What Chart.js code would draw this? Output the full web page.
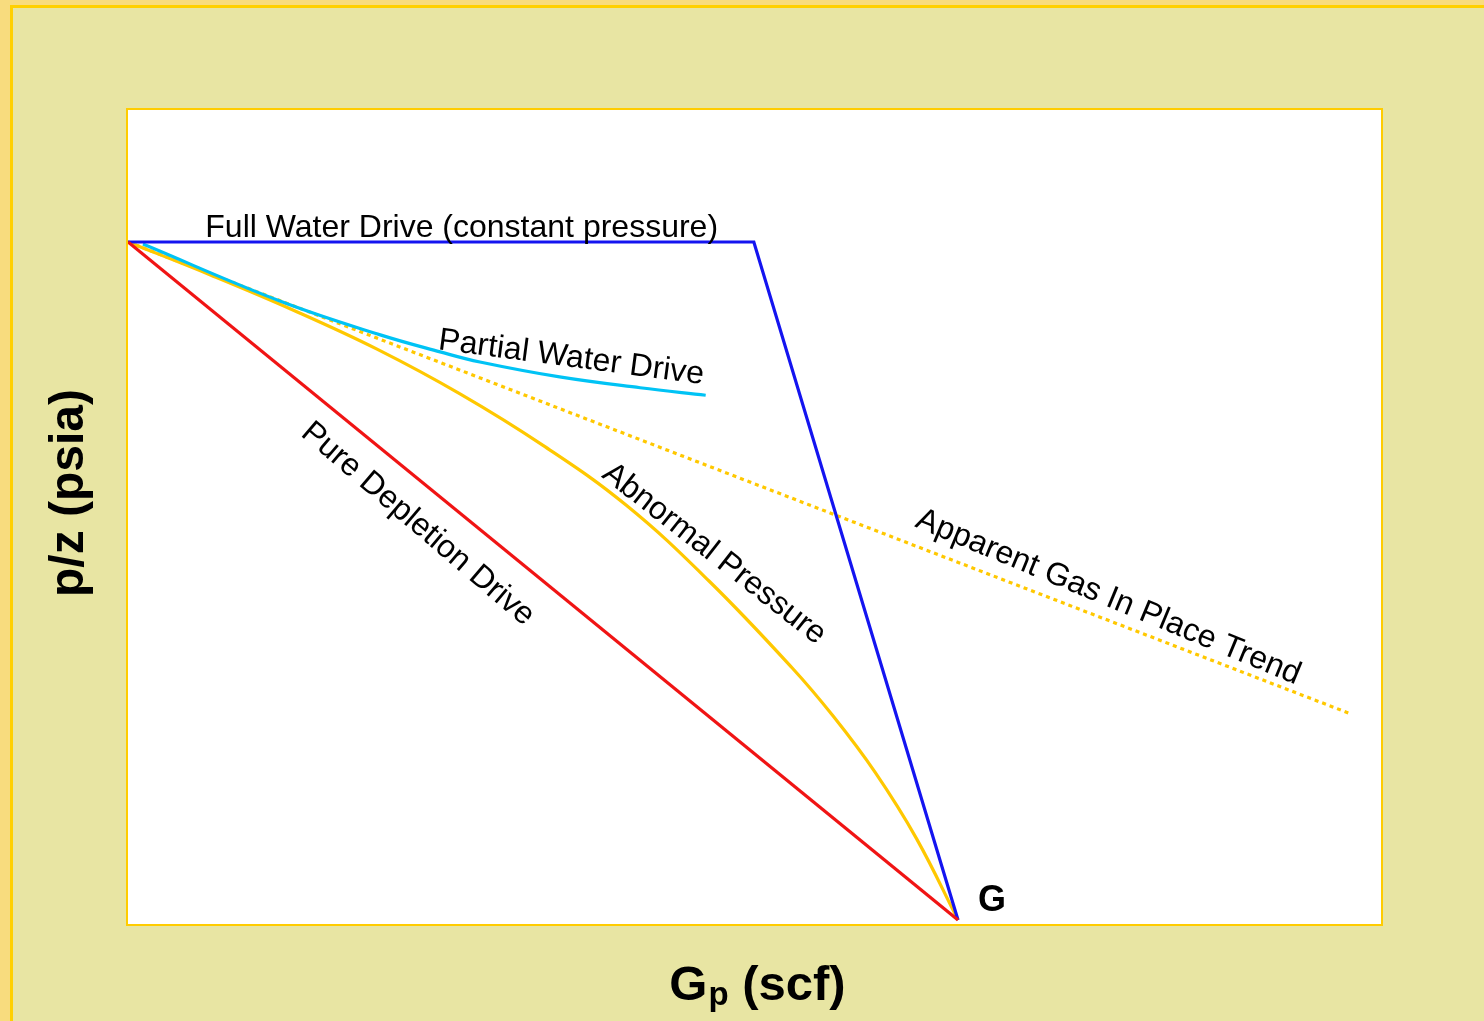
<!DOCTYPE html>
<html>
<head>
<meta charset="utf-8">
<script src="https://cdn.jsdelivr.net/npm/chart.js@4/dist/chart.umd.min.js"></script>
<style>
  html, body { margin: 0; padding: 0; background: #F8DC7E; }
  canvas { display: block; }
</style>
</head>
<body>
<canvas id="c" width="1484" height="1021"></canvas>
<script>
// Gp expressed as a fraction of G (true gas in place); p/z as a fraction of initial p/z
const depletionX = [0, 1];
const depletionY = [1, 0];

const fullWaterX = [0, 0.754, 1];
const fullWaterY = [1, 1, 0];

const partialWaterX = [0.018, 0.183, 0.304, 0.376, 0.424, 0.520, 0.617, 0.696];
const partialWaterY = [0.997, 0.913, 0.863, 0.838, 0.823, 0.801, 0.785, 0.774];

const abnormalX = [0, 0.1, 0.2, 0.3, 0.4, 0.5, 0.6, 0.7, 0.8, 0.85, 0.9, 0.95, 1];
const abnormalY = [1, 0.951, 0.899, 0.842, 0.776, 0.700, 0.612, 0.500, 0.372, 0.300, 0.218, 0.120, 0];

const apparentX = [0, 1.471];
const apparentY = [1, 0.305];

const curveLabels = [
  "Full Water Drive (constant pressure)",
  "Partial Water Drive",
  "Pure Depletion Drive",
  "Abnormal Pressure",
  "Apparent Gas In Place Trend",
  "G"
];
const xTitleMain = "G";
const xTitleSub = "p";
const xTitleRest = " (scf)";
const yTitle = "p/z (psia)";

function pts(xs, ys) { return xs.map((x, i) => ({ x: x, y: ys[i] })); }

const FONT = '"Liberation Sans", Arial, Helvetica, sans-serif';

const framePlugin = {
  id: 'frame',
  beforeDraw(chart) {
    const ctx = chart.ctx;
    const W = chart.width, H = chart.height;
    ctx.save();
    ctx.fillStyle = '#F8DC7E';
    ctx.fillRect(0, 0, W, H);
    ctx.fillStyle = '#E8E5A3';
    ctx.fillRect(10, 5, W, H);
    ctx.strokeStyle = '#FFD000';
    ctx.lineWidth = 3;
    ctx.beginPath();
    ctx.moveTo(11.5, H + 5);
    ctx.lineTo(11.5, 6.5);
    ctx.lineTo(W + 5, 6.5);
    ctx.stroke();
    const a = chart.chartArea;
    ctx.fillStyle = '#FFFFFF';
    ctx.fillRect(a.left, a.top, a.right - a.left, a.bottom - a.top);
    ctx.strokeStyle = '#FFCC00';
    ctx.lineWidth = 2;
    ctx.strokeRect(a.left - 1, a.top - 1, a.right - a.left + 2, a.bottom - a.top + 2);
    ctx.restore();
  }
};

const labelPlugin = {
  id: 'labels',
  afterDatasetsDraw(chart) {
    const ctx = chart.ctx;
    const sx = chart.scales.x, sy = chart.scales.y;
    const specs = [
      { t: curveLabels[0], x: 0.402, y: 1.020, a: 0 },
      { t: curveLabels[1], x: 0.534, y: 0.829, a: 7.5 },
      { t: curveLabels[2], x: 0.349, y: 0.584, a: 40.5 },
      { t: curveLabels[3], x: 0.706, y: 0.540, a: 38 },
      { t: curveLabels[4], x: 1.181, y: 0.476, a: 22.5 }
    ];
    ctx.save();
    ctx.fillStyle = '#000000';
    ctx.textAlign = 'center';
    ctx.textBaseline = 'middle';
    ctx.font = '32px ' + FONT;
    specs.forEach(s => {
      ctx.save();
      ctx.translate(sx.getPixelForValue(s.x), sy.getPixelForValue(s.y));
      ctx.rotate(s.a * Math.PI / 180);
      ctx.fillText(s.t, 0, 0);
      ctx.restore();
    });
    // G label
    ctx.font = 'bold 36px ' + FONT;
    ctx.fillText(curveLabels[5], sx.getPixelForValue(1.041), sy.getPixelForValue(0.028));

    // Axis titles
    ctx.textAlign = 'left';
    ctx.textBaseline = 'alphabetic';
    const big = 'bold 49px ' + FONT, small = 'bold 33px ' + FONT;
    ctx.font = big;
    const wG = ctx.measureText(xTitleMain).width;
    const wR = ctx.measureText(xTitleRest).width;
    ctx.font = small;
    const wP = ctx.measureText(xTitleSub).width;
    const cx = 757;
    let x0 = cx - (wG + wP + wR) / 2;
    const base = 1000;
    ctx.font = big;
    ctx.fillText(xTitleMain, x0, base);
    ctx.font = small;
    ctx.fillText(xTitleSub, x0 + wG + 1, base + 5);
    ctx.font = big;
    ctx.fillText(xTitleRest, x0 + wG + wP + 1, base);

    ctx.save();
    ctx.translate(70, 493);
    ctx.rotate(-Math.PI / 2);
    ctx.textAlign = 'center';
    ctx.textBaseline = 'middle';
    ctx.font = 'bold 48px ' + FONT;
    ctx.fillText(yTitle, 0, 0);
    ctx.restore();
    ctx.restore();
  }
};

const common = { pointRadius: 0, borderWidth: 3.2, showLine: true, fill: false };

new Chart(document.getElementById('c'), {
  type: 'scatter',
  data: {
    datasets: [
      Object.assign({ label: 'Pure Depletion Drive', data: pts(depletionX, depletionY), borderColor: '#F01414' }, common),
      Object.assign({ label: 'Full Water Drive', data: pts(fullWaterX, fullWaterY), borderColor: '#1414F0' }, common),
      Object.assign({ label: 'Partial Water Drive', data: pts(partialWaterX, partialWaterY), borderColor: '#00C3F5', tension: 0.4 }, common),
      Object.assign({ label: 'Abnormal Pressure', data: pts(abnormalX, abnormalY), borderColor: '#FFC800', tension: 0.4 }, common),
      Object.assign({ label: 'Apparent Gas In Place Trend', data: pts(apparentX, apparentY), borderColor: '#FFC800', borderDash: [4, 4] }, common)
    ]
  },
  options: {
    responsive: false,
    animation: false,
    devicePixelRatio: 1,
    layout: { padding: { left: 128, top: 110, right: 103, bottom: 97 } },
    scales: {
      x: { type: 'linear', min: 0, max: 1.5096, display: false },
      y: { type: 'linear', min: -0.0059, max: 1.1947, display: false }
    },
    plugins: { legend: { display: false }, tooltip: { enabled: false } },
    elements: { line: { borderJoinStyle: 'miter' } }
  },
  plugins: [framePlugin, labelPlugin]
});
</script>
</body>
</html>
